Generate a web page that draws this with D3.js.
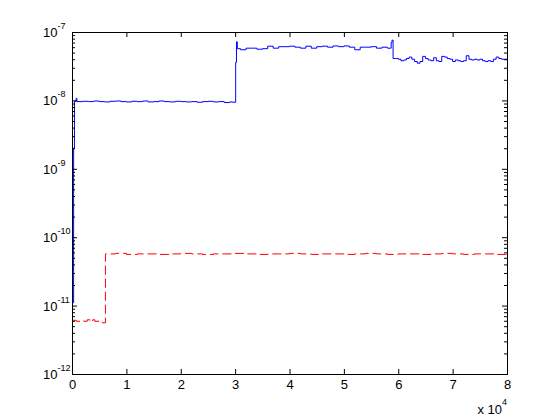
<!DOCTYPE html>
<html>
<head>
<meta charset="utf-8">
<script src="https://cdnjs.cloudflare.com/ajax/libs/d3/7.8.5/d3.min.js"></script>
<style>
body { margin: 0; background: #fff; }
svg { display: block; font-family: "Liberation Sans", Arial, Helvetica, sans-serif; }
</style>
</head>
<body>
<div id="chart"></div>
<script>
// blue trace: x in units of 1e4, y in units of 1e-9
var blueX = [0.015, 0.03, 0.045, 0.075, 0.09, 0.2, 0.3, 0.4, 0.5, 0.6, 0.7, 0.8, 0.9, 1.0,
    1.1, 1.2, 1.3, 1.4, 1.5, 1.6, 1.7, 1.8, 1.9, 2.0, 2.1, 2.2, 2.3, 2.4, 2.5, 2.6, 2.7,
    2.8, 2.9, 2.95, 3.01, 3.025, 3.04, 3.1, 3.2, 3.3, 3.4, 3.5, 3.6, 3.7, 3.8, 3.9,
    4.0, 4.1, 4.2, 4.3, 4.4, 4.5, 4.6, 4.7, 4.8, 4.9, 5.0, 5.1, 5.2, 5.3, 5.4, 5.5, 5.6,
    5.7, 5.8, 5.87, 5.885, 5.905, 5.95, 6.0, 6.05, 6.1, 6.15, 6.2, 6.25, 6.3, 6.35, 6.4,
    6.45, 6.5, 6.55, 6.6, 6.65, 6.7, 6.75, 6.8, 6.85, 6.9, 6.95, 7.0, 7.05, 7.1, 7.15,
    7.2, 7.25, 7.3, 7.35, 7.4, 7.45, 7.5, 7.55, 7.6, 7.65, 7.7, 7.75, 7.8, 7.85, 7.9,
    7.95, 8.0];
var blueY = [0.011, 2.0, 9.7, 10.7, 9.6, 9.7, 9.6, 9.8, 9.6, 9.5, 9.7, 9.8, 9.6, 9.5,
    9.7, 9.6, 9.8, 9.5, 9.6, 9.8, 9.6, 9.5, 9.7, 9.6, 9.5, 9.6, 9.4, 9.6, 9.7, 9.5, 9.6,
    9.3, 9.5, 9.4, 36, 72, 57, 55, 58, 58, 56, 57, 62, 58, 61,
    61, 62, 60, 58, 62, 58, 61, 62, 60, 62.5, 61, 62.5, 60, 55, 60, 60, 61, 58,
    60, 58, 70, 76, 41, 41, 40, 38, 39, 41, 43, 40, 37, 35, 37,
    44, 41, 39, 38, 42, 38, 37, 44, 43, 41, 40, 37, 39, 38, 37,
    38, 45, 40, 39, 40, 39, 40, 38, 37, 38, 37, 40, 43, 41, 40,
    40, 40];

// red trace: x in units of 1e4, y in units of 1e-12
var redX = [0, 0.08, 0.15, 0.22, 0.28, 0.33, 0.38, 0.42, 0.5, 0.56, 0.615, 0.7, 0.8, 1.0,
    1.2, 1.4, 1.6, 1.8, 2.0, 2.2, 2.4, 2.6, 2.8, 3.0, 3.2, 3.4, 3.6, 3.8, 4.0, 4.2, 4.4,
    4.6, 4.8, 5.0, 5.2, 5.4, 5.6, 5.8, 6.0, 6.2, 6.4, 6.6, 6.8, 7.0, 7.2, 7.4, 7.6, 7.8, 8.0];
var redY = [6.1, 5.9, 6.0, 5.9, 6.2, 5.9, 6.2, 5.9, 5.8, 5.6, 57, 57, 58, 56,
    57, 57, 56, 57, 58, 57, 56, 57, 57, 58, 57, 56, 57, 57, 58, 57, 56,
    57, 57, 56, 57, 58, 57, 56, 57, 57, 56, 57, 58, 57, 56, 57, 57, 56, 57];

var xTicks = [0, 1, 2, 3, 4, 5, 6, 7, 8];
var yExps = [-12, -11, -10, -9, -8, -7];

var W = 560, H = 420;
var margin = { top: 32, left: 72 },
    width = 435,
    height = 342;

var svg = d3.select("#chart").append("svg")
    .attr("width", W)
    .attr("height", H);

var g = svg.append("g")
    .attr("transform", "translate(" + margin.left + "," + margin.top + ")");

var x = d3.scaleLinear().domain([0, 8e4]).range([0, width]);
var y = d3.scaleLog().domain([1e-12, 1e-7]).range([height, 0]);

var majors = yExps.map(function (e) { return Math.pow(10, e); });
var minors = y.ticks().filter(function (v) {
    var l = Math.log10(v);
    return Math.abs(l - Math.round(l)) > 1e-6;
});

// clip for the data
g.append("clipPath").attr("id", "clip")
    .append("rect").attr("width", width).attr("height", height);

var blue = blueX.map(function (d, i) { return [d * 1e4, blueY[i] * 1e-9]; });
var red = redX.map(function (d, i) { return [d * 1e4, redY[i] * 1e-12]; });

var line = d3.line()
    .x(function (d) { return x(d[0]); })
    .y(function (d) { return y(d[1]); })
    .curve(d3.curveStepAfter);

var plot = g.append("g").attr("clip-path", "url(#clip)");

plot.append("path")
    .datum(red)
    .attr("fill", "none")
    .attr("stroke", "#ff0000")
    .attr("stroke-width", 1)
    .attr("stroke-dasharray", "9,4")
    .attr("d", line);

plot.append("path")
    .datum(blue)
    .attr("fill", "none")
    .attr("stroke", "#0000ff")
    .attr("stroke-width", 1)
    .attr("d", line);

// axes, ticks pointing inward on all four sides
function clean(sel) {
    sel.select(".domain").remove();
    sel.selectAll("line").attr("stroke", "#000");
}

var xBottom = g.append("g")
    .attr("transform", "translate(0," + height + ")")
    .call(d3.axisBottom(x)
        .tickValues(xTicks.map(function (d) { return d * 1e4; }))
        .tickSizeInner(-5).tickSizeOuter(0).tickPadding(6)
        .tickFormat(function (d) { return d / 1e4; }));
clean(xBottom);
xBottom.selectAll("text").attr("font-size", 13).attr("fill", "#000")
    .attr("font-family", "Liberation Sans, Arial, sans-serif");

var xTop = g.append("g")
    .call(d3.axisTop(x)
        .tickValues(xTicks.map(function (d) { return d * 1e4; }))
        .tickSizeInner(-5).tickSizeOuter(0).tickFormat(""));
clean(xTop);

var yLeft = g.append("g")
    .call(d3.axisLeft(y).tickValues(majors).tickSizeInner(-5).tickSizeOuter(0).tickFormat(""));
clean(yLeft);
var yLeftMinor = g.append("g")
    .call(d3.axisLeft(y).tickValues(minors).tickSizeInner(-3).tickSizeOuter(0).tickFormat(""));
clean(yLeftMinor);

var yRight = g.append("g")
    .attr("transform", "translate(" + width + ",0)")
    .call(d3.axisRight(y).tickValues(majors).tickSizeInner(-5).tickSizeOuter(0).tickFormat(""));
clean(yRight);
var yRightMinor = g.append("g")
    .attr("transform", "translate(" + width + ",0)")
    .call(d3.axisRight(y).tickValues(minors).tickSizeInner(-3).tickSizeOuter(0).tickFormat(""));
clean(yRightMinor);

// box
g.append("rect")
    .attr("x", 0.5).attr("y", 0.5)
    .attr("width", width).attr("height", height)
    .attr("fill", "none")
    .attr("stroke", "#000")
    .attr("stroke-width", 1);

// y tick labels: 10 with superscript exponent
var yLab = g.append("g").selectAll("text")
    .data(yExps)
    .enter().append("text")
    .attr("x", -29)
    .attr("y", function (e) { return y(Math.pow(10, e)) + 5; })
    .attr("font-size", 13)
    .attr("fill", "#000");
yLab.append("tspan").text("10");
yLab.append("tspan")
    .attr("font-size", 9)
    .attr("dy", -8)
    .text(function (e) { return e; });

// x multiplier
var mult = svg.append("text")
    .attr("x", 507)
    .attr("y", 414)
    .attr("text-anchor", "end")
    .attr("font-size", 13)
    .attr("fill", "#000");
mult.append("tspan").text("x 10");
mult.append("tspan").attr("font-size", 9).attr("dy", -9).text("4");
</script>
</body>
</html>
